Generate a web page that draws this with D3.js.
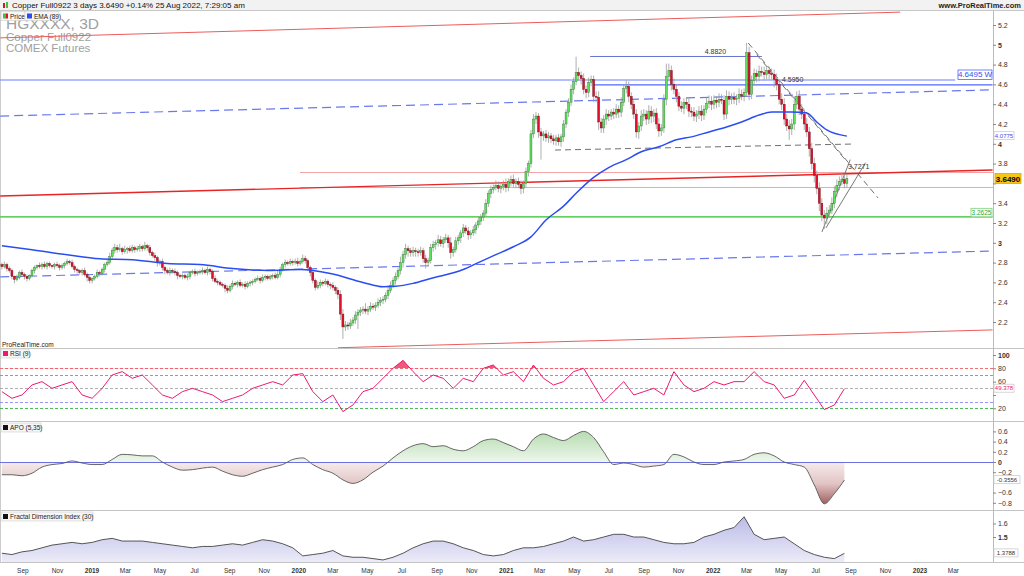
<!DOCTYPE html>
<html>
<head>
<meta charset="utf-8">
<script src="https://cdn.jsdelivr.net/npm/d3@7"></script>
<style>
  body { margin: 0; background: #fff; }
  svg text { font-family: "Liberation Sans", Arial, sans-serif; }
</style>
</head>
<body>
<div id="chart"></div>
<script>
// Copper Full0922, 3-day candles, ProRealTime style

// ---- data ----
var firstBarDate = "2018-07-26", lastBarDate = "2022-08-25";

// closes, one per 3-day bar
var closes = [
  2.76,2.78,2.74,2.72, 2.66,2.63,2.65,2.70, 2.68,2.66,2.64,2.67, 2.72,2.75,2.77,2.76, 2.78,2.76,2.79,2.77,
  2.76,2.78,2.77,2.75, 2.77,2.79,2.81,2.80, 2.76,2.73,2.72,2.70, 2.72,2.68,2.65,2.62, 2.64,2.66,2.70,2.69,
  2.73,2.78,2.80,2.86, 2.92,2.95,2.93,2.94, 2.91,2.93,2.94,2.92, 2.95,2.93,2.94,2.96, 2.94,2.97,2.95,2.90,
  2.87,2.85,2.80,2.81, 2.75,2.72,2.70,2.72, 2.71,2.70,2.67,2.66, 2.67,2.65,2.66,2.70, 2.71,2.69,2.70,2.71,
  2.72,2.70,2.73,2.71, 2.64,2.61,2.60,2.58, 2.57,2.54,2.52,2.56, 2.59,2.58,2.60,2.57, 2.58,2.56,2.59,2.60,
  2.61,2.63,2.64,2.62, 2.65,2.66,2.64,2.66, 2.67,2.65,2.68,2.73, 2.78,2.80,2.79,2.81, 2.80,2.81,2.79,2.81,
  2.84,2.82,2.75,2.70, 2.62,2.55,2.57,2.60, 2.59,2.61,2.58,2.57, 2.55,2.52,2.48,2.28, 2.15,2.17,2.16,2.19,
  2.22,2.27,2.30,2.32, 2.33,2.31,2.33,2.36, 2.35,2.37,2.40,2.42, 2.43,2.47,2.52,2.57, 2.62,2.66,2.72,2.80,
  2.88,2.94,2.92,2.90, 2.92,2.91,2.90,2.92, 2.84,2.80,2.82,2.95, 2.98,3.00,3.03,2.99, 3.03,3.05,3.00,2.90,
  2.93,3.02,3.05,3.10, 3.15,3.12,3.08,3.10, 3.13,3.18,3.22,3.26, 3.30,3.40,3.50,3.54, 3.56,3.58,3.55,3.57,
  3.59,3.56,3.62,3.64, 3.60,3.62,3.59,3.55, 3.60,3.72,3.80,4.10, 4.25,4.28,4.12,4.08, 4.10,4.06,4.08,4.05,
  4.03,4.06,4.02,4.07, 4.20,4.32,4.42,4.55, 4.63,4.72,4.69,4.66, 4.55,4.52,4.62,4.65, 4.48,4.47,4.22,4.16,
  4.25,4.30,4.28,4.32, 4.30,4.35,4.32,4.42, 4.56,4.58,4.48,4.40, 4.30,4.12,4.18,4.28, 4.30,4.25,4.33,4.28,
  4.31,4.20,4.13,4.16, 4.45,4.68,4.74,4.60, 4.55,4.48,4.38,4.36, 4.42,4.40,4.33,4.32, 4.28,4.30,4.33,4.29,
  4.35,4.41,4.43,4.40, 4.44,4.42,4.45,4.44, 4.30,4.48,4.45,4.47, 4.45,4.46,4.50,4.48, 4.52,4.92,4.50,4.64,
  4.71,4.68,4.73,4.72, 4.70,4.74,4.71,4.70, 4.65,4.60,4.45,4.40, 4.25,4.18,4.15,4.20, 4.40,4.48,4.35,4.30,
  4.20,4.12,3.95,3.80, 3.68,3.55,3.40,3.28, 3.25,3.30,3.33,3.40, 3.52,3.58,3.62,3.64, 3.60,3.649
];
var firstOpen = 2.78;

// wick length above / below the body, in cents
var wickUp = [
  2,3,2,2, 2,1,3,2, 3,2,2,1, 2,2,1,3, 2,3,2,2, 1,2,3,2, 2,2,3,2, 3,2,2,1, 2,3,2,2, 1,2,3,2,
  2,2,3,4, 3,4,3,5, 2,4,2,3, 3,2,3,3, 2,4,2,3, 2,3,2,2, 3,2,2,3, 2,3,2,2, 2,2,3,2, 2,3,2,2,
  3,2,3,2, 2,3,2,2, 2,2,3,2, 3,2,2,3, 2,3,2,2, 2,2,3,2, 3,2,2,2, 2,3,4,3, 2,3,2,3, 2,3,4,2,
  4,3,2,2, 3,2,4,3, 2,3,2,2, 3,2,3,4, 5,4,3,4, 3,4,3,3, 3,6,3,4, 3,3,4,3, 3,3,5,4, 3,4,3,6,
  4,5,3,3, 4,3,3,4, 3,4,3,4, 4,3,5,4, 3,4,3,6, 3,4,3,3, 4,3,4,3, 4,3,4,3, 3,4,3,4, 3,5,4,3,
  4,6,3,4, 5,3,4,4, 3,4,3,4, 5,4,3,4, 3,4,4,3, 4,3,4,3, 4,3,4,5, 4,16,5,4, 5,4,5,4, 4,5,6,4,
  4,5,4,3, 4,5,4,5, 4,6,5,4, 4,5,4,6, 5,4,6,5, 4,5,6,4, 5,13,7,5, 6,5,4,5, 4,5,6,4, 5,4,5,6,
  4,5,6,5, 5,4,6,5, 5,6,5,4, 5,4,6,5, 4,10,6,5, 5,4,6,5, 6,5,4,5, 5,6,5,6, 6,5,6,5, 8,5,6,5,
  5,6,5,6, 6,5,6,5, 5,6,5,6, 5,6,5,7, 6,4
];
var wickDn = [
  3,2,3,2, 3,4,2,2, 2,3,3,2, 2,3,2,2, 3,2,3,2, 2,3,2,3, 2,3,2,2, 2,3,3,2, 3,2,4,3, 3,2,2,3,
  2,3,2,2, 2,3,3,2, 3,2,4,2, 2,3,2,3, 3,2,3,3, 2,3,4,3, 3,4,2,3, 2,3,4,2, 3,2,3,3, 2,3,2,2,
  3,2,3,3, 3,2,3,2, 2,4,3,2, 3,2,3,2, 2,3,2,3, 3,2,2,3, 2,3,2,2, 3,2,2,3, 2,3,2,2, 3,2,3,2,
  2,3,3,4, 3,3,2,3, 3,2,3,4, 3,4,5,6, 12,4,4,3, 3,4,14,4, 4,3,4,3, 3,4,3,4, 4,3,4,3, 3,4,3,4,
  5,4,6,4, 4,5,4,3, 4,6,4,3, 4,5,4,3, 4,3,5,6, 4,3,4,5, 4,3,5,4, 3,4,3,4, 4,3,4,5, 4,3,4,5,
  4,5,4,5, 4,5,4,6, 5,4,5,4, 4,5,6,24, 5,4,5,4, 4,5,4,5, 5,4,5,4, 5,4,5,6, 5,6,5,4, 6,5,8,5,
  5,6,5,4, 5,4,6,5, 4,5,6,5, 5,6,7,5, 5,6,5,7, 6,5,6,5, 5,6,5,6, 5,6,5,4, 6,5,6,5, 5,6,5,6,
  5,4,5,6, 5,6,5,4, 6,5,6,5, 5,6,5,4, 5,4,6,5, 5,6,5,4, 6,5,6,5, 8,6,5,6, 6,5,11,6, 6,5,6,5,
  6,5,8,6, 7,6,8,6, 11,6,5,4, 5,6,5,4, 5,4
];

// EMA(89), read at these bar numbers
var emaBars = [0,12,26,39,52,66,79,92,106,119,131,144,152,157,164,171,184,190,197,204,211,217,224,229,236,242,249,255,262,269,275,282,289,295,302,307,315,321,325,329,337];
var emaVals = [2.97,2.93,2.88,2.84,2.83,2.79,2.78,2.74,2.72,2.73,2.69,2.60,2.555,2.56,2.59,2.64,2.73,2.80,2.88,2.96,3.06,3.23,3.37,3.50,3.66,3.76,3.84,3.92,3.97,4.04,4.07,4.12,4.17,4.22,4.29,4.32,4.32,4.31,4.22,4.14,4.0775];

// indicators, one reading every 4 bars (bar 0, 4, 8 ... 336)
var indStep = 4;
var rsiVals = [45,35,40,55,60,50,55,60,40,35, 50,70,75,65,70,55,40,35,45,50, 45,40,30,35,40,50,55,60,55,70,
  72,45,30,40,15,25,45,50,65,80, 92,75,60,70,65,50,65,60,80,85, 70,75,60,85,65,55,60,75,80,55,
  30,45,60,40,45,50,40,75,55,45, 50,60,55,60,60,75,60,55,35,40, 62,40,18,25,49.378];
var apoVals = [-0.25,-0.25,-0.27,-0.22,-0.1,-0.05,-0.03,0.02,-0.02,-0.05, -0.05,0.05,0.15,0.14,0.12,0.12,0,-0.1,-0.16,-0.15,
  -0.12,-0.1,-0.18,-0.25,-0.28,-0.22,-0.15,-0.1,-0.05,0.05, 0.08,-0.05,-0.15,-0.22,-0.35,-0.42,-0.35,-0.2,-0.08,0.08,
  0.22,0.32,0.36,0.3,0.32,0.25,0.22,0.3,0.42,0.45, 0.38,0.3,0.22,0.45,0.55,0.48,0.42,0.52,0.6,0.48,
  0.2,-0.05,-0.02,-0.05,-0.1,-0.08,-0.05,0.15,0.1,0, -0.05,-0.05,0,0.02,0.05,0.15,0.18,0.12,0,-0.05,
  -0.1,-0.45,-0.82,-0.62,-0.3556];
var fdiVals = [1.38,1.37,1.39,1.40,1.42,1.44,1.45,1.46,1.45,1.46, 1.48,1.49,1.47,1.47,1.47,1.46,1.45,1.44,1.43,1.42,
  1.43,1.43,1.44,1.45,1.44,1.46,1.48,1.47,1.45,1.42, 1.36,1.37,1.38,1.40,1.36,1.35,1.35,1.34,1.33,1.35,
  1.38,1.42,1.45,1.47,1.47,1.45,1.42,1.40,1.37,1.36, 1.37,1.40,1.42,1.42,1.43,1.45,1.47,1.50,1.47,1.48,
  1.50,1.52,1.52,1.50,1.50,1.48,1.46,1.45,1.45,1.46, 1.50,1.52,1.55,1.57,1.65,1.52,1.48,1.49,1.50,1.45,
  1.40,1.37,1.35,1.34,1.3788];

// drawn levels and trend lines: [date, price]
var redLines = [
  [["2018-07-23", 5.07], ["2022-11-27", 5.33]],
  [["2020-03-10", 1.94], ["2023-05-09", 2.12]]
];
var redMain = [["2018-07-23", 3.473], ["2023-05-09", 3.735]];
var pinkLevels = [3.715, 3.565];
var blueDashed = [
  [["2018-07-23", 4.28], ["2023-05-09", 4.545]],
  [["2018-07-23", 2.655], ["2023-05-09", 2.917]]
];
var grayDashed = [
  [["2021-03-28", 3.937], ["2022-09-08", 3.998]],
  [["2022-03-04", 5.018], ["2022-10-19", 3.453]],
  [["2022-03-19", 4.90], ["2022-08-22", 3.84]]
];
var wedgeLines = [
  [["2022-07-12", 3.11], ["2022-08-31", 3.84]],
  [["2022-07-19", 3.15], ["2022-09-27", 3.81]]
];
var levelW = [["2018-07-23", 4.6495], ["2023-03-04", 4.6495]];
var level4595 = [["2021-06-03", 4.5950], ["2023-05-09", 4.5950]];
var top4882 = [["2021-05-29", 4.882], ["2022-03-28", 4.882]];
var greenLevel = [["2018-07-23", 3.2625], ["2023-05-09", 3.2625]];
var lastPrice = 3.6490, lastEma = 4.0775;

var priceTicks = [2.2,2.4,2.6,2.8,3,3.2,3.4,3.6,3.8,4,4.2,4.4,4.6,4.8,5,5.2];
var rsiTicks = [20,40,60,80,100];
var rsiLevels = [80,70,50,30,20];
var apoTicks = [-0.8,-0.6,-0.2,0,0.2,0.4,0.6];
var fdiTicks = [1.5,1.6];

// ---- layout ----
var W = 1024, H = 576, plotR = 993;
var main = {top: 11, bottom: 348},
    rsiP = {top: 349, bottom: 421},
    apoP = {top: 422, bottom: 510},
    fdiP = {top: 511, bottom: 562};

var parse = d3.timeParse("%Y-%m-%d");

var svg = d3.select("#chart").append("svg")
  .attr("width", W).attr("height", H)
  .style("display", "block");

var xTime = d3.scaleTime()
  .domain([new Date(2019, 0, 1), new Date(2023, 0, 1)])
  .range([92, 920]);

var xBar = d3.scaleLinear()
  .domain([0, closes.length - 1])
  .range([xTime(parse(firstBarDate)), xTime(parse(lastBarDate))]);

var yPrice = d3.scaleLinear().domain([2.2, 5.2]).range([322, 25]);
var yRsi = d3.scaleLinear().domain([20, 100]).range([408.3, 355]);
var yApo = d3.scaleLinear().domain([0, 0.6]).range([462, 431.4]);
var yFdi = d3.scaleLinear().domain([1.5, 1.6]).range([537, 523.5]);

var defs = svg.append("defs");
[["clipMain", main], ["clipRsi", rsiP], ["clipApo", apoP], ["clipFdi", fdiP]].forEach(function(c) {
  defs.append("clipPath").attr("id", c[0]).append("rect")
    .attr("x", 0).attr("y", c[1].top).attr("width", plotR).attr("height", c[1].bottom - c[1].top);
});

// header strip
svg.append("rect").attr("x", 0).attr("y", 0).attr("width", W).attr("height", 11).attr("fill", "#f2f2f2");
svg.append("line").attr("x1", 0).attr("x2", W).attr("y1", 10.5).attr("y2", 10.5).attr("stroke", "#c8c8c8");
svg.append("rect").attr("x", 3).attr("y", 3).attr("width", 2).attr("height", 5).attr("fill", "#e0102c");
svg.append("rect").attr("x", 6).attr("y", 2).attr("width", 2).attr("height", 6).attr("fill", "#3ec43e");
svg.append("text").attr("x", 12).attr("y", 8.3).attr("font-size", "8px").attr("fill", "#111")
  .text("Copper Full0922 3 days 3.6490 +0.14% 25 Aug 2022, 7:29:05 am");
svg.append("text").attr("x", 1021).attr("y", 8.3).attr("font-size", "7.5px").attr("font-weight", "bold")
  .attr("text-anchor", "end").attr("fill", "#222").text("www.ProRealTime.com");

// panel frames
[main, rsiP, apoP, fdiP].forEach(function(p) {
  svg.append("line").attr("x1", 0).attr("x2", W).attr("y1", p.bottom + 0.5).attr("y2", p.bottom + 0.5)
    .attr("stroke", "#c4c4c4");
});
svg.append("line").attr("x1", plotR + 0.5).attr("x2", plotR + 0.5).attr("y1", 11).attr("y2", 562)
  .attr("stroke", "#bbb");
svg.append("line").attr("x1", 0.5).attr("x2", 0.5).attr("y1", 11).attr("y2", 562).attr("stroke", "#ccc");

// big watermark title
var wm = svg.append("g").attr("fill", "#a0a0a0");
wm.append("text").attr("x", 6).attr("y", 28.5).attr("font-size", "15.5px").text("HGXXXX, 3D");
wm.append("text").attr("x", 6).attr("y", 40.5).attr("font-size", "11.5px").text("Copper Full0922");
wm.append("text").attr("x", 6).attr("y", 51.5).attr("font-size", "11.5px").text("COMEX Futures");

// ---- main panel lines ----
var gm = svg.append("g").attr("clip-path", "url(#clipMain)");
var segLine = d3.line()
  .x(function(d) { return xTime(parse(d[0])); })
  .y(function(d) { return yPrice(d[1]); });
function crisp(v) { return Math.round(v) + 0.5; }

gm.selectAll(".pink").data(pinkLevels).enter().append("line")
  .attr("x1", 300).attr("x2", plotR)
  .attr("y1", function(d) { return crisp(yPrice(d)); }).attr("y2", function(d) { return crisp(yPrice(d)); })
  .attr("stroke", "#f4a4a4").attr("stroke-width", 1);

gm.selectAll(".redl").data(redLines).enter().append("path")
  .attr("d", segLine).attr("fill", "none").attr("stroke", "#ec5c5c").attr("stroke-width", 1);
gm.append("path").attr("d", segLine(redMain)).attr("fill", "none")
  .attr("stroke", "#e82424").attr("stroke-width", 1.4);

gm.selectAll(".bdash").data(blueDashed).enter().append("path")
  .attr("d", segLine).attr("fill", "none").attr("stroke", "#6a78ee")
  .attr("stroke-width", 1.2).attr("stroke-dasharray", "9,5");

// horizontal levels
gm.append("path").attr("d", segLine(levelW)).attr("fill", "none")
  .attr("transform", "translate(0,0.5)")
  .attr("stroke", "#6a7eff").attr("stroke-width", 1.2);
gm.append("path").attr("d", segLine(level4595)).attr("fill", "none")
  .attr("stroke", "#5068ff").attr("stroke-width", 1.2);
gm.append("path").attr("d", segLine(top4882)).attr("fill", "none")
  .attr("stroke", "#6674d0").attr("stroke-width", 1);
gm.append("path").attr("d", segLine(greenLevel)).attr("fill", "none")
  .attr("stroke", "#30c030").attr("stroke-width", 1.2);

gm.selectAll(".gdash").data(grayDashed).enter().append("path")
  .attr("d", segLine).attr("fill", "none").attr("stroke", "#707070")
  .attr("stroke-width", 1).attr("stroke-dasharray", "6,4");
gm.selectAll(".wedge").data(wedgeLines).enter().append("path")
  .attr("d", segLine).attr("fill", "none").attr("stroke", "#555").attr("stroke-width", 0.8);

// ---- candles ----
var bars = closes.map(function(c, i) {
  var o = i ? closes[i - 1] : firstOpen;
  return { i: i, o: o, c: c,
           hi: Math.max(o, c) + wickUp[i] / 100,
           lo: Math.min(o, c) - wickDn[i] / 100 };
});
var bw = 2;
gm.selectAll(".wick").data(bars).enter().append("line")
  .attr("x1", function(d) { return xBar(d.i); }).attr("x2", function(d) { return xBar(d.i); })
  .attr("y1", function(d) { return yPrice(d.hi); }).attr("y2", function(d) { return yPrice(d.lo); })
  .attr("stroke", "#9a9a9a").attr("stroke-width", 0.8);
gm.selectAll(".body").data(bars).enter().append("rect")
  .attr("x", function(d) { return xBar(d.i) - bw / 2; })
  .attr("y", function(d) { return yPrice(Math.max(d.o, d.c)); })
  .attr("width", bw)
  .attr("height", function(d) { return Math.max(1, Math.abs(yPrice(d.o) - yPrice(d.c))); })
  .attr("fill", function(d) { return d.c >= d.o ? "#5ee05e" : "#e0102c"; })
  .attr("stroke", function(d) { return d.c >= d.o ? "#2f6f2f" : "#6a0a12"; })
  .attr("stroke-width", 0.4);

// EMA
gm.append("path")
  .datum(emaBars.map(function(b, k) { return [b, emaVals[k]]; }))
  .attr("d", d3.line().curve(d3.curveMonotoneX)
    .x(function(d) { return xBar(d[0]); }).y(function(d) { return yPrice(d[1]); }))
  .attr("fill", "none").attr("stroke", "#2a4df2").attr("stroke-width", 1.5);

// annotations in the plot
var ann = svg.append("g").attr("font-size", "7px");
ann.append("text").attr("x", xTime(parse("2022-01-05"))).attr("y", 54).attr("text-anchor", "middle")
  .attr("fill", "#333").text("4.8820");
ann.append("text").attr("x", 782).attr("y", yPrice(level4595[0][1]) - 3).attr("fill", "#333").text("4.5950");
ann.append("text").attr("x", 848).attr("y", 169).attr("fill", "#333").text("3.7271");

function boxLabel(g, x, y, w, h, txt, opt) {
  g.append("rect").attr("x", x).attr("y", y).attr("width", w).attr("height", h)
    .attr("fill", opt.fill || "#fff").attr("stroke", opt.stroke || "#bbb").attr("stroke-width", 0.8);
  g.append("text").attr("x", x + w / 2).attr("y", y + h - 2).attr("text-anchor", "middle")
    .attr("font-size", opt.size || "7px").attr("font-weight", opt.weight || "normal")
    .attr("fill", opt.color || "#333").text(txt);
}
boxLabel(svg, 958, yPrice(levelW[0][1]) - 9.5, 34, 9.5, "4.6495 W", {stroke: "#4a64ff", color: "#3a4ef0", size: "8px"});
boxLabel(svg, 971, yPrice(greenLevel[0][1]) - 8.5, 21, 8.5, "3.2625", {stroke: "#7cd07c", color: "#1faa1f", size: "6.5px"});

// ---- right price axis ----
// labels hidden behind the value boxes are left blank, as on the original
function styleAxis(ax, boldTest, hidden) {
  ax.select(".domain").remove();
  ax.selectAll(".tick line").attr("stroke", "#888");
  ax.selectAll(".tick text").attr("font-size", "7px").attr("fill", "#333")
    .attr("font-family", "'Liberation Sans', Arial, sans-serif")
    .attr("font-weight", function(d) { return boldTest(d) ? "bold" : "normal"; })
    .text(function(d) { return hidden.indexOf(d) >= 0 ? "" : d3.select(this).text(); });
}
var axMain = svg.append("g").attr("transform", "translate(" + plotR + ",0)")
  .call(d3.axisRight(yPrice).tickValues(priceTicks).tickSize(3).tickPadding(2)
    .tickFormat(function(d) { return d3.format("")(d); }));
styleAxis(axMain, function(d) { return Number.isInteger(d); }, [3.6]);

boxLabel(svg, 994, yPrice(lastEma) - 4.5, 20, 8, "4.0775", {stroke: "#ccc", color: "#3a4ef0", size: "6px"});
boxLabel(svg, 995, yPrice(lastPrice) - 5, 26, 10, "3.6490", {fill: "#f5c518", stroke: "#d9a800", color: "#000", size: "8px", weight: "bold"});

svg.append("text").attr("x", 2).attr("y", 346.5).attr("font-size", "6.5px").attr("fill", "#222").text("ProRealTime.com");

// ---- legends ----
function legend(x, y, w, label, swatch) {
  var g = svg.append("g");
  g.append("rect").attr("x", x).attr("y", y).attr("width", w).attr("height", 9)
    .attr("fill", "#f6f6f6").attr("stroke", "#cfcfcf").attr("stroke-width", 0.6);
  swatch(g, x + 2, y + 2);
  g.append("text").attr("x", x + 9).attr("y", y + 7).attr("font-size", "6.5px").attr("fill", "#222").text(label);
}
legend(1, 11.5, 24, "Price", function(g, x, y) {
  g.append("rect").attr("x", x).attr("y", y).attr("width", 2.5).attr("height", 5).attr("fill", "#3ec43e");
  g.append("rect").attr("x", x + 2.5).attr("y", y).attr("width", 2.5).attr("height", 5).attr("fill", "#e0102c");
});
legend(25, 11.5, 34, "EMA (89)", function(g, x, y) {
  g.append("rect").attr("x", x).attr("y", y).attr("width", 5).attr("height", 5).attr("fill", "#2a4df2");
});
legend(1, 349, 28, "RSI (9)", function(g, x, y) {
  g.append("rect").attr("x", x).attr("y", y).attr("width", 5).attr("height", 5).attr("fill", "#f0186e");
});
legend(1, 423, 40, "APO (5,35)", function(g, x, y) {
  g.append("rect").attr("x", x).attr("y", y).attr("width", 5).attr("height", 5).attr("fill", "#111");
});
legend(1, 512, 92, "Fractal Dimension Index (30)", function(g, x, y) {
  g.append("rect").attr("x", x).attr("y", y).attr("width", 5).attr("height", 5).attr("fill", "#111");
});

// ---- RSI ----
var gr = svg.append("g").attr("clip-path", "url(#clipRsi)");
var rsiColors = {80: "#f06060", 70: "#7c84ee", 50: "#a8a8a8", 30: "#8c8cf0", 20: "#3cb04c"};
gr.selectAll(".lvl").data(rsiLevels).enter().append("line")
  .attr("x1", 0).attr("x2", plotR)
  .attr("y1", function(d) { return crisp(yRsi(d)); }).attr("y2", function(d) { return crisp(yRsi(d)); })
  .attr("stroke", function(d) { return rsiColors[d]; }).attr("stroke-width", 0.9)
  .attr("stroke-dasharray", "3,2");

var rsiPts = rsiVals.map(function(v, k) { return [Math.min(k * indStep, closes.length - 1), v]; });
defs.append("clipPath").attr("id", "rsiHigh").append("rect")
  .attr("x", 0).attr("y", rsiP.top).attr("width", plotR).attr("height", yRsi(80) - rsiP.top);
gr.append("path").datum(rsiPts)
  .attr("clip-path", "url(#rsiHigh)")
  .attr("d", d3.area().x(function(d) { return xBar(d[0]); }).y0(yRsi(80)).y1(function(d) { return yRsi(d[1]); }))
  .attr("fill", "#e8305a").attr("opacity", 0.8);
gr.append("path").datum(rsiPts)
  .attr("d", d3.line().x(function(d) { return xBar(d[0]); }).y(function(d) { return yRsi(d[1]); }))
  .attr("fill", "none").attr("stroke", "#f0186e").attr("stroke-width", 1);

var axRsi = svg.append("g").attr("transform", "translate(" + plotR + ",0)")
  .call(d3.axisRight(yRsi).tickValues(rsiTicks).tickSize(3).tickPadding(2));
styleAxis(axRsi, function(d) { return d === 100; }, [40]);
boxLabel(svg, 994, yRsi(49.378) - 4.5, 20, 8, "49.378", {stroke: "#ccc", color: "#f0186e", size: "6px"});

// ---- APO ----
var ga = svg.append("g").attr("clip-path", "url(#clipApo)");
var gradUp = defs.append("linearGradient").attr("id", "apoUp").attr("gradientUnits", "userSpaceOnUse")
  .attr("x1", 0).attr("x2", 0).attr("y1", yApo(0.6)).attr("y2", yApo(0));
gradUp.append("stop").attr("offset", 0).attr("stop-color", "#b6dcb0");
gradUp.append("stop").attr("offset", 1).attr("stop-color", "#eef7ec");
var gradDn = defs.append("linearGradient").attr("id", "apoDn").attr("gradientUnits", "userSpaceOnUse")
  .attr("x1", 0).attr("x2", 0).attr("y1", yApo(0)).attr("y2", yApo(-0.85));
gradDn.append("stop").attr("offset", 0).attr("stop-color", "#f6ecec");
gradDn.append("stop").attr("offset", 0.5).attr("stop-color", "#e2c4c4");
gradDn.append("stop").attr("offset", 1).attr("stop-color", "#9c5a5a");

var apoPts = apoVals.map(function(v, k) { return [Math.min(k * indStep, closes.length - 1), v]; });
defs.append("clipPath").attr("id", "apoAbove").append("rect")
  .attr("x", 0).attr("y", apoP.top).attr("width", plotR).attr("height", yApo(0) - apoP.top);
defs.append("clipPath").attr("id", "apoBelow").append("rect")
  .attr("x", 0).attr("y", yApo(0)).attr("width", plotR).attr("height", apoP.bottom - yApo(0));
var apoArea = d3.area().curve(d3.curveMonotoneX)
  .x(function(d) { return xBar(d[0]); }).y0(yApo(0)).y1(function(d) { return yApo(d[1]); });
ga.append("path").datum(apoPts).attr("clip-path", "url(#apoAbove)").attr("d", apoArea).attr("fill", "url(#apoUp)");
ga.append("path").datum(apoPts).attr("clip-path", "url(#apoBelow)").attr("d", apoArea).attr("fill", "url(#apoDn)");
ga.append("line").attr("x1", 0).attr("x2", plotR).attr("y1", crisp(yApo(0))).attr("y2", crisp(yApo(0)))
  .attr("stroke", "#6f70e0").attr("stroke-width", 1);
ga.append("path").datum(apoPts)
  .attr("d", d3.line().curve(d3.curveMonotoneX).x(function(d) { return xBar(d[0]); }).y(function(d) { return yApo(d[1]); }))
  .attr("fill", "none").attr("stroke", "#555").attr("stroke-width", 0.9);

var axApo = svg.append("g").attr("transform", "translate(" + plotR + ",0)")
  .call(d3.axisRight(yApo).tickValues(apoTicks).tickSize(3).tickPadding(2)
    .tickFormat(function(d) { return d === 0 ? "0" : d3.format(".1f")(d); }));
styleAxis(axApo, function(d) { return d === 0; }, []);
boxLabel(svg, 994, yApo(-0.3556) - 4.5, 26, 8, "-0.3556", {stroke: "#ccc", color: "#333", size: "6px"});

// ---- Fractal Dimension Index ----
var gf = svg.append("g").attr("clip-path", "url(#clipFdi)");
var gradF = defs.append("linearGradient").attr("id", "fdiFill").attr("gradientUnits", "userSpaceOnUse")
  .attr("x1", 0).attr("x2", 0).attr("y1", yFdi(1.7)).attr("y2", fdiP.bottom);
gradF.append("stop").attr("offset", 0).attr("stop-color", "#b4b4e6");
gradF.append("stop").attr("offset", 1).attr("stop-color", "#ebebf8");
var fdiPts = fdiVals.map(function(v, k) { return [Math.min(k * indStep, closes.length - 1), v]; });
gf.append("path").datum(fdiPts)
  .attr("d", d3.area().x(function(d) { return xBar(d[0]); }).y0(fdiP.bottom).y1(function(d) { return yFdi(d[1]); }))
  .attr("fill", "url(#fdiFill)");
gf.append("path").datum(fdiPts)
  .attr("d", d3.line().x(function(d) { return xBar(d[0]); }).y(function(d) { return yFdi(d[1]); }))
  .attr("fill", "none").attr("stroke", "#444").attr("stroke-width", 0.9);

var axFdi = svg.append("g").attr("transform", "translate(" + plotR + ",0)")
  .call(d3.axisRight(yFdi).tickValues(fdiTicks).tickSize(3).tickPadding(2).tickFormat(d3.format(".1f")));
styleAxis(axFdi, function(d) { return d === 1.5; }, []);
boxLabel(svg, 994, yFdi(1.3788) - 4.5, 24, 8, "1.3788", {stroke: "#ccc", color: "#333", size: "6px"});

// ---- time axis ----
var months = d3.timeMonth.every(2).range(new Date(2018, 8, 1), new Date(2023, 3, 1));
var fmtMon = d3.timeFormat("%b"), fmtYear = d3.timeFormat("%Y");
svg.append("g").selectAll("text").data(months).enter().append("text")
  .attr("x", function(d) { return xTime(d); })
  .attr("y", 572.5)
  .attr("text-anchor", "middle")
  .attr("font-size", "6.5px")
  .attr("font-weight", function(d) { return d.getMonth() === 0 ? "bold" : "normal"; })
  .attr("fill", "#333")
  .text(function(d) { return d.getMonth() === 0 ? fmtYear(d) : fmtMon(d); });
</script>
</body>
</html>
